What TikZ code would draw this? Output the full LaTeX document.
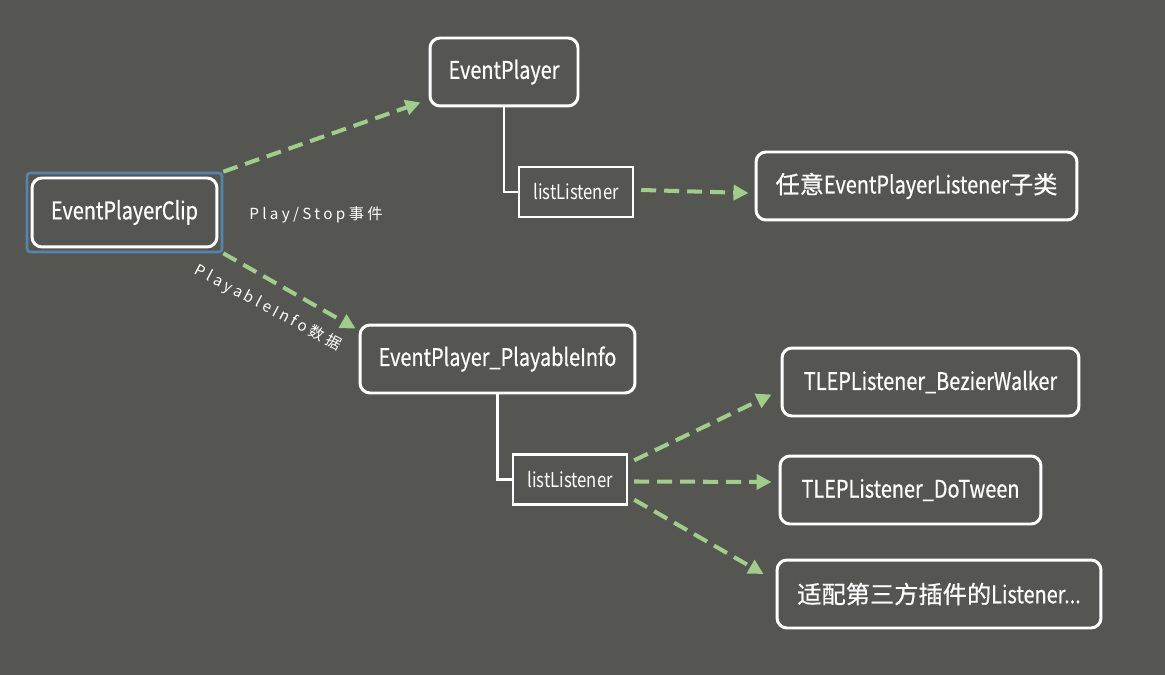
\documentclass[tikz,border=0pt]{standalone}
\usepackage{fontspec}
\setmainfont{Noto Sans CJK SC}[FakeStretch=0.82, FakeBold=0.5]
\newfontfamily\cjk{Noto Sans CJK SC}[FakeBold=0.5]
\newfontfamily\listfont{Noto Sans CJK SC}[FakeStretch=0.82]
\newfontfamily\spacedfont{Noto Sans CJK SC}[LetterSpace=22]
\usetikzlibrary{arrows.meta}
\definecolor{bgcol}{RGB}{85,86,82}
\definecolor{flowgreen}{RGB}{160,204,140}
\definecolor{selblue}{RGB}{86,133,171}
\tikzset{
  box/.style={draw=white, line width=1.7pt, rounded corners=0.2cm, text=white,
    font=\fontsize{13.8}{15}\selectfont, inner sep=0pt},
  listbox/.style={draw=white, line width=1.4pt, text=white,
    font=\listfont\fontsize{11.6}{13}\selectfont, inner sep=0pt,
    minimum width=2.28cm, minimum height=1cm},
  flow/.style={draw=flowgreen, line width=2.3pt, dash pattern=on 0.3cm off 0.16cm,
    -{Triangle[length=0.3cm, width=0.3cm, fill=flowgreen]}},
  tree/.style={draw=white, line width=1.4pt},
  lbl/.style={text=white, font=\spacedfont\fontsize{8.7}{10}\selectfont}
}
\begin{document}
\begin{tikzpicture}[x=0.02cm, y=-0.02cm]
    \fill[bgcol] (0,0) rectangle (1165,675);
    \useasboundingbox (0,0) rectangle (1165,675);

    % left side
    \node[draw=selblue, line width=1.5pt, rounded corners=0.06cm,
      minimum width=3.9cm, minimum height=1.58cm] (clipsel) at (124.5,212.5) {};
    \node[box, minimum width=3.7cm, minimum height=1.38cm] (clip) at (124.5,212.5) {EventPlayerClip};

    % upper branch
    \node[box, minimum width=2.96cm, minimum height=1.36cm] (ep) at (504,72) {EventPlayer};
    \node[listbox] (ll1) at (576,192) {listListener};
    \node[box, minimum width=6.42cm, minimum height=1.36cm] (any) at (916.5,186) {{\cjk 任意}EventPlayerListener{\cjk 子类}};

    % lower branch
    \node[box, minimum width=5.5cm, minimum height=1.36cm] (pinfo) at (497.5,359) {EventPlayer\_PlayableInfo};
    \node[listbox] (ll2) at (570,479.5) {listListener};
    \node[box, minimum width=5.94cm, minimum height=1.36cm] (bezier) at (930.5,382) {TLEPListener\_BezierWalker};
    \node[box, minimum width=5.22cm, minimum height=1.36cm] (dotween) at (910.5,490) {TLEPListener\_DoTween};
    \node[box, minimum width=6.48cm, minimum height=1.36cm] (adapt) at (939,594) {{\cjk 适配第三方插件的}Listener...};

    % tree lines
    \draw[tree] (ep.south) |- (ll1.west);
    \draw[tree] (pinfo.south) |- (ll2.west);

    % flows
    \draw[flow] (clipsel.north east) -- ([shift={(-8,-5)}]ep.south west);
    \draw[flow] (clipsel.south east) -- ([shift={(-3,5)}]pinfo.north west);
    \draw[flow] ([shift={(7,-2)}]ll1.east) -- ([shift={(-6,7)}]any.west);
    \draw[flow] ([shift={(6,7)}]ll2.north east) -- ([shift={(-9,-23)}]bezier.south west);
    \draw[flow] ([shift={(6,2)}]ll2.east) -- ([shift={(-7,-8)}]dotween.west);
    \draw[flow] ([shift={(6,-6)}]ll2.south east) -- ([shift={(-12,-20)}]adapt.west);

    \node[lbl] (lplay) at (316,215) {Play/Stop事件};
    \node[lbl, rotate=-28] (linfo) at (268,308) {PlayableInfo数据};
\end{tikzpicture}
\end{document}
